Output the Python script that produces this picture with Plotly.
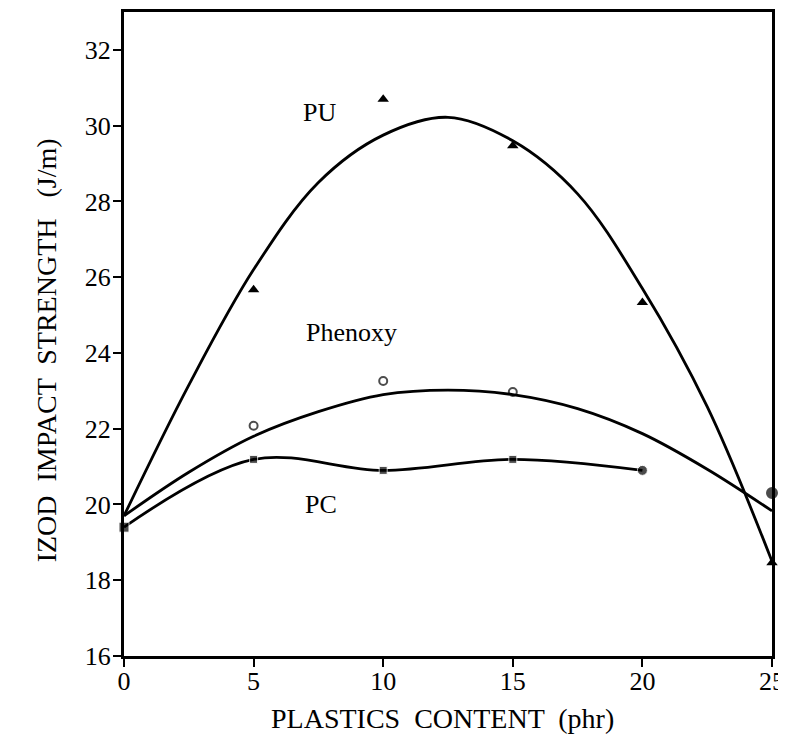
import plotly.graph_objects as go

# ---- data ----
pu_x = [5, 10, 15, 20, 25]
pu_y = [25.67, 30.7, 29.47, 25.33, 18.46]

phenoxy_x = [5, 10, 15, 25]
phenoxy_y = [22.08, 23.26, 22.97, 20.3]

pc_x = [0, 5, 10, 15, 20]
pc_y = [19.4, 21.19, 20.9, 21.19, 20.9]

# fitted curves
fit_x = [0, 2.5, 5, 7.5, 10, 12.5, 15, 17.5, 20, 22.5, 25]
pu_fit = [19.7, 23.15, 26.2, 28.5, 29.75, 30.22, 29.6, 28.2, 25.7, 22.58, 18.5]
phenoxy_fit = [19.7, 20.85, 21.8, 22.45, 22.9, 23.02, 22.9, 22.53, 21.87, 20.93, 19.83]

y_ticks = [16, 18, 20, 22, 24, 26, 28, 30, 32]
x_ticks = [0, 5, 10, 15, 20, 25]

FONT = "Liberation Serif"
BLACK = "#000000"

fig = go.Figure()

fig.add_trace(go.Scatter(x=fit_x, y=pu_fit, mode="lines", line=dict(color=BLACK, width=2.8, shape="spline"),
                         cliponaxis=False, hoverinfo="skip"))
fig.add_trace(go.Scatter(x=fit_x, y=phenoxy_fit, mode="lines", line=dict(color=BLACK, width=2.8, shape="spline"),
                         cliponaxis=False, hoverinfo="skip"))
fig.add_trace(go.Scatter(x=pc_x, y=pc_y, mode="lines", line=dict(color=BLACK, width=2.8, shape="spline", smoothing=1.0),
                         cliponaxis=False, hoverinfo="skip"))

fig.add_trace(go.Scatter(x=pu_x, y=pu_y, mode="markers",
                         marker=dict(symbol="triangle-up", size=10, color=BLACK),
                         cliponaxis=False))
fig.add_trace(go.Scatter(x=phenoxy_x, y=phenoxy_y, mode="markers",
                         marker=dict(symbol=["circle-open", "circle-open", "circle-open", "circle"],
                                     size=[8, 8, 8, 10], color=BLACK, line=dict(width=2, color=BLACK)),
                         cliponaxis=False))
fig.add_trace(go.Scatter(x=pc_x, y=pc_y, mode="markers",
                         marker=dict(symbol=["square", "square", "square", "square", "circle"],
                                     size=[10, 8, 8, 8, 10], color=BLACK),
                         cliponaxis=False))

annots = [
    dict(x=7.55, y=30.36, text="PU"),
    dict(x=8.78, y=24.55, text="Phenoxy"),
    dict(x=7.6, y=20.0, text="PC"),
]
for a in annots:
    fig.add_annotation(x=a["x"], y=a["y"], text=a["text"], showarrow=False,
                       font=dict(family=FONT, size=26, color=BLACK), xref="x", yref="y")

fig.add_annotation(x=-0.12, y=0.475, xref="paper", yref="paper", xanchor="center", yanchor="middle",
                   text="IZOD  IMPACT  STRENGTH   (J/m)", textangle=-90, showarrow=False,
                   font=dict(family=FONT, size=28, color=BLACK))
fig.add_annotation(x=0.491, y=-0.097, xref="paper", yref="paper", xanchor="center", yanchor="middle",
                   text="PLASTICS  CONTENT  (phr)", showarrow=False,
                   font=dict(family=FONT, size=28, color=BLACK))

fig.update_layout(
    width=778, height=726,
    margin=dict(l=116, r=12, t=1, b=78),
    paper_bgcolor="white", plot_bgcolor="white",
    showlegend=False,
    font=dict(family=FONT, color=BLACK),
)
fig.update_xaxes(range=[0, 25], tickvals=x_ticks, ticktext=[str(v) for v in x_ticks],
                 showgrid=False, zeroline=False, showline=True, linewidth=3, linecolor=BLACK,
                 mirror=True, ticks="outside", ticklen=8, tickwidth=2, tickcolor=BLACK,
                 ticklabeloverflow="allow", ticklabelstandoff=-8,
                 tickfont=dict(family=FONT, size=26, color=BLACK))
fig.update_yaxes(range=[16, 33], tickvals=y_ticks, ticktext=[str(v) for v in y_ticks],
                 showgrid=False, zeroline=False, showline=True, linewidth=3, linecolor=BLACK,
                 mirror=True, ticks="outside", ticklen=8, tickwidth=2, tickcolor=BLACK,
                 ticklabelstandoff=-3,
                 tickfont=dict(family=FONT, size=26, color=BLACK))

fig.write_html("out.html")
